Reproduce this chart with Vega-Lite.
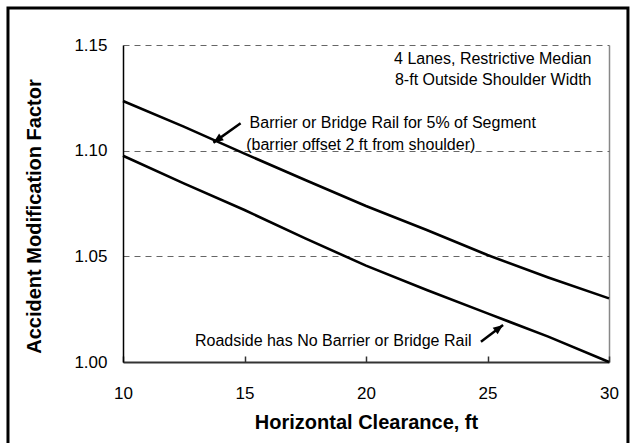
{
  "$schema": "https://vega.github.io/schema/vega-lite/v6.json",
  "width": 486,
  "height": 317,
  "autosize": {"type": "none"},
  "padding": {"left": 123, "top": 45, "right": 22, "bottom": 81},
  "background": "white",
  "config": {
    "view": {"stroke": null},
    "font": "Liberation Sans",
    "text": {"font": "Liberation Sans"}
  },
  "datasets": {
    "curves": [
      {"series": "Barrier or Bridge Rail for 5% of Segment", "clearance": 10, "amf": 1.1235},
      {"series": "Barrier or Bridge Rail for 5% of Segment", "clearance": 12.5, "amf": 1.1114},
      {"series": "Barrier or Bridge Rail for 5% of Segment", "clearance": 15, "amf": 1.0986},
      {"series": "Barrier or Bridge Rail for 5% of Segment", "clearance": 17.5, "amf": 1.0861},
      {"series": "Barrier or Bridge Rail for 5% of Segment", "clearance": 20, "amf": 1.0738},
      {"series": "Barrier or Bridge Rail for 5% of Segment", "clearance": 22.5, "amf": 1.0625},
      {"series": "Barrier or Bridge Rail for 5% of Segment", "clearance": 25, "amf": 1.0506},
      {"series": "Barrier or Bridge Rail for 5% of Segment", "clearance": 27.5, "amf": 1.0400},
      {"series": "Barrier or Bridge Rail for 5% of Segment", "clearance": 30, "amf": 1.0301},
      {"series": "Roadside has No Barrier or Bridge Rail", "clearance": 10, "amf": 1.0976},
      {"series": "Roadside has No Barrier or Bridge Rail", "clearance": 12.5, "amf": 1.0845},
      {"series": "Roadside has No Barrier or Bridge Rail", "clearance": 15, "amf": 1.0719},
      {"series": "Roadside has No Barrier or Bridge Rail", "clearance": 17.5, "amf": 1.0585},
      {"series": "Roadside has No Barrier or Bridge Rail", "clearance": 20, "amf": 1.0456},
      {"series": "Roadside has No Barrier or Bridge Rail", "clearance": 22.5, "amf": 1.0341},
      {"series": "Roadside has No Barrier or Bridge Rail", "clearance": 25, "amf": 1.0230},
      {"series": "Roadside has No Barrier or Bridge Rail", "clearance": 27.5, "amf": 1.0120},
      {"series": "Roadside has No Barrier or Bridge Rail", "clearance": 30, "amf": 1.0000}
    ],
    "notesLeft": [
      {"label": "Barrier or Bridge Rail for 5% of Segment", "clearance": 15.21, "amf": 1.1131},
      {"label": "(barrier offset 2 ft from shoulder)", "clearance": 15.07, "amf": 1.1027},
      {"label": "Roadside has No Barrier or Bridge Rail", "clearance": 12.96, "amf": 1.0099}
    ],
    "notesRight": [
      {"label": "4 Lanes, Restrictive Median", "clearance": 29.28, "amf": 1.1434},
      {"label": "8-ft Outside Shoulder Width", "clearance": 29.28, "amf": 1.1334}
    ],
    "arrows": [
      {"arrow": "barrier", "clearance": 14.84, "amf": 1.1130, "clearance2": 13.72, "amf2": 1.1038},
      {"arrow": "roadside", "clearance": 24.73, "amf": 1.0096, "clearance2": 25.64, "amf2": 1.0175}
    ]
  },
  "layer": [
    {
      "data": {"values": [{}]},
      "mark": {"type": "rect", "fill": null, "stroke": "black", "strokeWidth": 3},
      "encoding": {
        "x": {"datum": 5.267, "type": "quantitative"},
        "x2": {"datum": 30.78},
        "y": {"datum": 1.1675, "type": "quantitative"},
        "y2": {"datum": 0.95}
      }
    },
    {
      "data": {"name": "curves"},
      "mark": {"type": "line", "strokeWidth": 2.6, "color": "black"},
      "encoding": {
        "x": {
          "field": "clearance",
          "type": "quantitative",
          "scale": {"domain": [10, 30], "nice": false, "zero": false},
          "axis": {
            "values": [10, 15, 20, 25, 30],
            "title": "Horizontal Clearance, ft",
            "titleFont": "Liberation Sans",
            "titleFontSize": 20,
            "titleFontWeight": "bold",
            "titleColor": "black",
            "titleBaseline": "alphabetic",
            "titleY": 66,
            "labelFont": "Liberation Sans",
            "labelFontSize": 17,
            "labelColor": "black",
            "labelBaseline": "alphabetic",
            "labelFlush": false,
            "labelPadding": 42,
            "tickSize": -6,
            "tickColor": "#333",
            "tickWidth": 1.5,
            "domainColor": "#333",
            "domainWidth": 2,
            "grid": true,
            "gridColor": "#888",
            "gridWidth": 1.5,
            "gridOpacity": {"condition": {"test": "datum.value === 30", "value": 1}, "value": 0}
          }
        },
        "y": {
          "field": "amf",
          "type": "quantitative",
          "scale": {"domain": [1, 1.15], "nice": false, "zero": false},
          "axis": {
            "values": [1, 1.05, 1.1, 1.15],
            "format": ".2f",
            "title": "Accident Modification Factor",
            "titleFont": "Liberation Sans",
            "titleFontSize": 20,
            "titleFontWeight": "bold",
            "titleColor": "black",
            "titleBaseline": "alphabetic",
            "titleAlign": "center",
            "titleAngle": -90,
            "titleX": -83,
            "titleY": 171,
            "labelFont": "Liberation Sans",
            "labelFontSize": 17,
            "labelColor": "black",
            "labelPadding": 16,
            "ticks": false,
            "domainColor": "black",
            "domainWidth": 1.5,
            "grid": true,
            "gridColor": "#666",
            "gridDash": [6, 5],
            "gridWidth": 1
          }
        },
        "detail": {"field": "series", "type": "nominal"}
      }
    },
    {
      "data": {"name": "notesLeft"},
      "mark": {"type": "text", "align": "left", "baseline": "middle", "fontSize": 16, "color": "black", "font": "Liberation Sans"},
      "encoding": {
        "x": {"field": "clearance", "type": "quantitative"},
        "y": {"field": "amf", "type": "quantitative"},
        "text": {"field": "label"}
      }
    },
    {
      "data": {"name": "notesRight"},
      "mark": {"type": "text", "align": "right", "baseline": "middle", "fontSize": 16, "color": "black", "font": "Liberation Sans"},
      "encoding": {
        "x": {"field": "clearance", "type": "quantitative"},
        "y": {"field": "amf", "type": "quantitative"},
        "text": {"field": "label"}
      }
    },
    {
      "data": {"name": "arrows"},
      "mark": {"type": "rule", "strokeWidth": 2.5, "color": "black"},
      "encoding": {
        "x": {"field": "clearance", "type": "quantitative"},
        "y": {"field": "amf", "type": "quantitative"},
        "x2": {"field": "clearance2"},
        "y2": {"field": "amf2"}
      }
    },
    {
      "data": {"name": "arrows"},
      "transform": [{"filter": "datum.arrow === 'barrier'"}],
      "mark": {"type": "point", "shape": "M0,0 L-0.9,2.2 L0.9,2.2 Z", "filled": true, "size": 81, "color": "black", "opacity": 1, "angle": 234.6},
      "encoding": {
        "x": {"field": "clearance2", "type": "quantitative"},
        "y": {"field": "amf2", "type": "quantitative"}
      }
    },
    {
      "data": {"name": "arrows"},
      "transform": [{"filter": "datum.arrow === 'roadside'"}],
      "mark": {"type": "point", "shape": "M0,0 L-0.9,2.2 L0.9,2.2 Z", "filled": true, "size": 81, "color": "black", "opacity": 1, "angle": 52.8},
      "encoding": {
        "x": {"field": "clearance2", "type": "quantitative"},
        "y": {"field": "amf2", "type": "quantitative"}
      }
    }
  ]
}
